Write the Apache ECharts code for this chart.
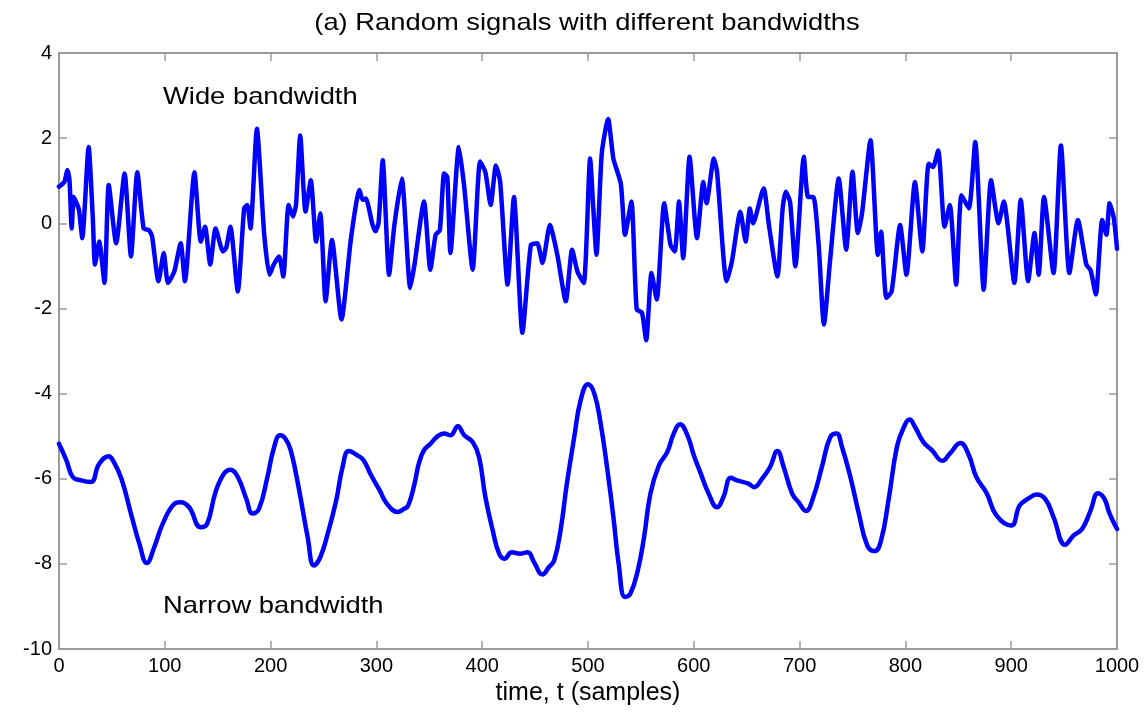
<!DOCTYPE html>
<html>
<head>
<meta charset="utf-8">
<script src="https://cdn.jsdelivr.net/npm/echarts@6/dist/echarts.min.js"></script>
<style>
html,body{margin:0;padding:0;background:#ffffff;}
#chart{width:1148px;height:719px;}
</style>
</head>
<body>
<div id="chart"></div>
<script>
// ---- data ----
const titleText = '(a) Random signals with different bandwidths';
const xLabelText = 'time, t (samples)';
const wideLabel = 'Wide bandwidth';
const narrowLabel = 'Narrow bandwidth';

const xMin = 0, xMax = 1000, xStep = 100;
const yMin = -10, yMax = 4, yStep = 2;

// wide-bandwidth signal: sample index and value
const wideT = [0,5,8,10,12,14,17,19,22,28,32,34,38,43,47,54,62,68,74,80,85,88,94,99,103,109,115,119,128,134,138,143,148,155,158,162,169,175,178,181,187,194,199,203,208,212,217,221,224,228,233,238,243,247,252,258,267,276,284,287,290,296,299,302,306,312,317,324,332,336,345,351,356,360,364,367,370,378,383,391,398,403,408,413,417,424,430,438,446,452,457,464,471,479,485,490,496,502,505,508,513,519,524,531,535,541,546,551,555,560,565,572,578,582,586,590,596,603,609,612,619,622,631,636,644,649,653,656,666,671,679,684,687,691,696,704,708,713,718,723,729,737,744,750,755,759,767,774,777,782,787,795,801,809,816,822,826,831,837,842,848,853,860,866,874,881,888,893,903,909,916,922,926,931,940,947,955,963,971,975,980,986,990,993,997,1000];
const wideV = [0.86,0.97,1.25,0.97,-0.12,0.62,0.45,0.30,-0.35,1.79,0.10,-0.97,-0.43,-1.40,0.90,-0.47,1.17,-0.78,1.20,-0.12,-0.16,-0.31,-1.36,-0.70,-1.40,-1.13,-0.47,-1.36,1.20,-0.43,-0.08,-0.97,-0.12,-0.66,-0.58,-0.08,-1.60,0.35,0.43,-0.12,2.22,-0.27,-1.21,-0.97,-0.78,-1.25,0.43,0.16,0.43,2.06,0.27,1.01,-0.43,0.23,-1.83,-0.39,-2.26,-0.35,0.78,0.55,0.58,0.00,-0.19,0.00,1.48,-1.21,-0.04,1.05,-1.52,-0.97,0.51,-1.09,-0.27,-0.16,1.17,1.09,-0.70,1.79,0.86,-1.09,1.45,1.20,0.43,1.36,0.97,-1.44,0.62,-2.57,-0.51,-0.47,-0.93,-0.04,-0.74,-1.83,-0.62,-1.13,-1.40,1.52,0.35,-0.74,1.64,2.45,1.52,0.93,-0.27,0.51,-2.02,-2.10,-2.75,-1.17,-1.79,0.47,-0.51,-0.66,0.51,-0.82,1.56,-0.35,0.97,0.47,1.52,1.20,-1.36,-0.90,0.27,-0.43,0.35,0.00,0.82,-0.04,-1.25,0.35,0.74,0.50,-1.01,1.56,0.62,0.62,-0.51,-2.38,-0.82,1.05,-0.62,1.21,-0.23,0.23,1.95,-0.74,-0.20,-1.75,-1.60,-0.04,-1.21,0.97,-0.66,1.40,1.32,1.71,-0.08,0.43,-1.44,0.66,0.35,1.91,-1.56,1.01,0.00,0.51,-1.40,0.55,-1.36,-0.23,-1.21,0.62,-1.17,1.83,-1.17,0.08,-0.97,-1.10,-1.67,0.08,-0.27,0.47,0.12,-0.60];

// narrow-bandwidth signal: sample index and value
const narrowT = [0,7,13,21,30,38,47,51,59,68,76,83,90,98,109,115,123,134,140,148,156,162,169,177,183,189,197,203,209,214,219,227,235,241,247,254,262,268,274,282,288,295,303,310,320,326,330,336,340,345,351,358,364,370,377,383,391,397,403,410,416,421,428,436,443,449,457,463,468,474,480,487,493,500,506,512,518,524,529,535,540,547,553,559,567,575,581,587,594,600,606,614,622,628,635,641,652,657,664,672,679,685,693,699,706,713,721,729,735,740,748,756,764,771,777,784,792,798,804,809,817,825,835,842,852,860,867,877,886,900,908,916,924,932,940,951,959,967,975,982,988,993,1000];
const narrowV = [-5.18,-5.57,-5.96,-6.04,-6.08,-5.65,-5.47,-5.57,-6.00,-6.82,-7.53,-7.98,-7.61,-7.06,-6.59,-6.55,-6.67,-7.14,-7.06,-6.31,-5.88,-5.79,-5.96,-6.47,-6.82,-6.71,-5.96,-5.29,-4.98,-5.06,-5.33,-6.27,-7.37,-8.04,-7.84,-7.29,-6.51,-5.73,-5.35,-5.45,-5.57,-5.92,-6.27,-6.59,-6.78,-6.71,-6.63,-6.12,-5.65,-5.33,-5.18,-5.00,-4.94,-4.98,-4.77,-4.98,-5.14,-5.49,-6.43,-7.22,-7.76,-7.88,-7.73,-7.76,-7.73,-7.96,-8.25,-8.08,-7.92,-7.22,-6.12,-5.02,-4.16,-3.78,-4.00,-4.71,-5.73,-6.90,-8.00,-8.78,-8.70,-8.16,-7.37,-6.35,-5.69,-5.37,-4.94,-4.72,-4.98,-5.45,-5.84,-6.35,-6.67,-6.43,-5.98,-6.04,-6.12,-6.20,-6.02,-5.73,-5.35,-5.73,-6.35,-6.55,-6.76,-6.43,-5.73,-5.02,-4.94,-5.25,-5.96,-6.82,-7.57,-7.70,-7.45,-6.51,-5.25,-4.82,-4.61,-4.78,-5.14,-5.33,-5.58,-5.41,-5.16,-5.45,-5.96,-6.35,-6.86,-7.10,-6.63,-6.47,-6.37,-6.47,-6.90,-7.55,-7.33,-7.18,-6.75,-6.34,-6.47,-6.82,-7.18];

// ---- chart ----
const pairs = (ts, vs) => ts.map((t, i) => [t, vs[i]]);
const axisGray = '#9a9a9a';
const font = '"Liberation Sans", Arial, Helvetica, sans-serif';
const plainNum = v => String(v);

const chart = echarts.init(document.getElementById('chart'), null, {renderer: 'canvas'});

const baseX = {
  type: 'value', min: xMin, max: xMax, interval: xStep,
  axisLine: {show: true, onZero: false, lineStyle: {color: axisGray, width: 2}},
  axisTick: {show: true, inside: true, length: 8, lineStyle: {color: axisGray, width: 1.5}},
  splitLine: {show: false}
};
const baseY = {
  type: 'value', min: yMin, max: yMax, interval: yStep,
  axisLine: {show: true, onZero: false, lineStyle: {color: axisGray, width: 2}},
  axisTick: {show: true, inside: true, length: 8, lineStyle: {color: axisGray, width: 1.5}},
  splitLine: {show: false}
};

chart.setOption({
  animation: false,
  backgroundColor: '#ffffff',
  grid: {left: 59, right: 31, top: 53, bottom: 70, containLabel: false, outerBoundsMode: 'none'},
  xAxis: [
    Object.assign({}, baseX, {
      position: 'bottom',
      axisLabel: {show: true, color: '#000', fontSize: 20, fontFamily: font, margin: 7, formatter: plainNum},
      name: xLabelText, nameLocation: 'middle', nameGap: 29,
      nameTextStyle: {color: '#000', fontSize: 25, fontFamily: font}
    }),
    Object.assign({}, baseX, {position: 'top', axisLabel: {show: false}})
  ],
  yAxis: [
    Object.assign({}, baseY, {
      position: 'left',
      axisLabel: {show: true, color: '#000', fontSize: 20, fontFamily: font, margin: 7, formatter: plainNum}
    }),
    Object.assign({}, baseY, {position: 'right', axisLabel: {show: false}})
  ],
  series: [
    {
      name: wideLabel, type: 'line', xAxisIndex: 0, yAxisIndex: 0,
      data: pairs(wideT, wideV), showSymbol: false, smooth: 0.2,
      lineStyle: {color: '#0000ff', width: 4.5, cap: 'round', join: 'round'}, z: 3
    },
    {
      name: narrowLabel, type: 'line', xAxisIndex: 0, yAxisIndex: 0,
      data: pairs(narrowT, narrowV), showSymbol: false, smooth: 0.45,
      lineStyle: {color: '#0000ff', width: 4.5, cap: 'round', join: 'round'}, z: 3
    }
  ],
  graphic: [
    {type: 'text', x: 587, y: 23, scaleX: 1.14, style: {text: titleText, font: '24px ' + font, fill: '#000', textAlign: 'center', textVerticalAlign: 'middle'}},
    {type: 'text', x: 163, y: 97, scaleX: 1.14, style: {text: wideLabel, font: '24px ' + font, fill: '#000', textAlign: 'left', textVerticalAlign: 'middle'}},
    {type: 'text', x: 163, y: 606, scaleX: 1.14, style: {text: narrowLabel, font: '24px ' + font, fill: '#000', textAlign: 'left', textVerticalAlign: 'middle'}}
  ]
});
</script>
</body>
</html>
